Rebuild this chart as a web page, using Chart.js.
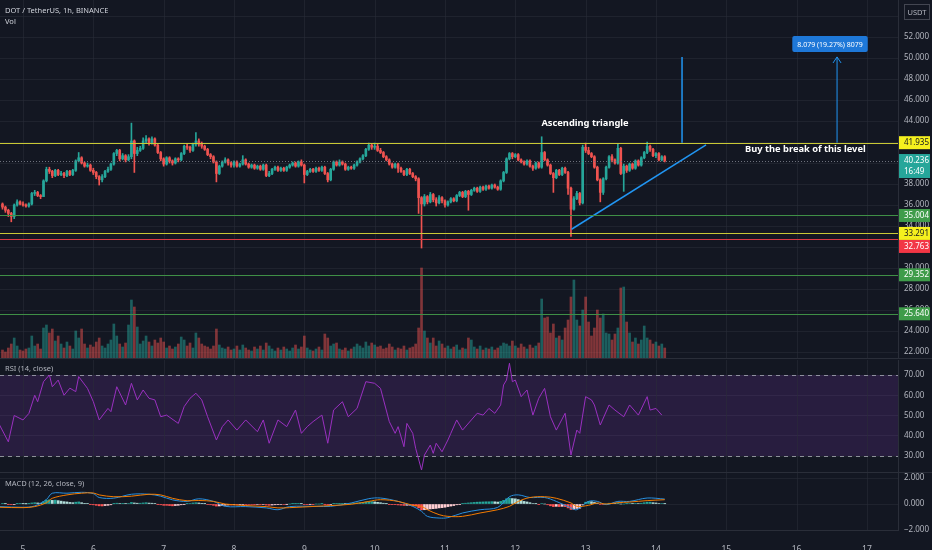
<!DOCTYPE html>
<html>
<head>
<meta charset="utf-8">
<title>DOT / TetherUS, 1h</title>
<script src="https://cdn.jsdelivr.net/npm/chart.js@4.4.0/dist/chart.umd.min.js"></script>
<style>
  html, body { margin: 0; padding: 0; background: #131722; }
  #wrap { position: relative; width: 932px; height: 550px; overflow: hidden; background: #131722; }
  #wrap canvas { position: absolute; left: 0; }
  .sep { position: absolute; left: 0; width: 932px; height: 1px; background: #2a2e39; }
</style>
</head>
<body>
<div id="wrap">
  <canvas id="priceChart" width="932" height="358" style="top:0"></canvas>
  <div class="sep" style="top:358px"></div>
  <canvas id="rsiChart" width="932" height="112" style="top:360px"></canvas>
  <div class="sep" style="top:472px"></div>
  <canvas id="macdChart" width="932" height="77" style="top:473px"></canvas>
</div>
<script>
// hourly candles, first one is the 4th at 17:00 (hours counted from the 5th 00:00)
const firstHour = -7;
const firstOpen = 36.1;

const closes = [
  35.8, 35.5, 35.2, 34.9, 36.0, 36.3, 36.1,
  36.0, 35.9, 36.1, 37.1, 37.2, 36.9, 36.8, 38.3, 39.4, 39.2, 38.8, 39.3, 38.9, 39.0, 38.8, 39.2, 38.9, 39.3, 40.2, 40.5, 40.0, 39.7, 39.8, 39.3,
  39.1, 38.7, 38.4, 38.7, 39.2, 39.4, 39.9, 40.9, 41.2, 40.4, 40.7, 40.3, 40.6, 42.1, 40.9, 41.2, 41.4, 42.1, 42.3, 41.9, 42.3, 41.7, 41.0, 40.4,
  39.9, 40.5, 40.2, 40.0, 40.4, 40.3, 40.9, 41.6, 41.5, 41.2, 41.8, 42.1, 41.8, 41.6, 41.3, 40.8, 40.6, 40.1, 39.0, 39.7, 40.1, 40.3, 40.0, 39.8,
  40.1, 39.7, 39.9, 40.3, 39.9, 39.6, 39.8, 39.5, 39.7, 39.4, 39.8, 38.8, 39.0, 39.4, 39.6, 39.3, 39.5, 39.3, 39.6, 39.8, 40.0, 39.7, 40.1, 39.8,
  38.9, 39.2, 39.4, 39.2, 39.5, 39.3, 39.6, 39.0, 38.4, 39.4, 40.1, 39.8, 40.1, 39.9, 39.4, 39.6, 39.5, 39.8, 40.1, 40.4, 40.7, 41.3, 41.7, 41.5,
  41.6, 41.2, 41.0, 40.6, 40.3, 39.9, 39.6, 39.9, 39.5, 39.2, 38.9, 39.4, 39.0, 38.7, 38.5, 36.7, 36.1, 36.8, 36.3, 37.0, 36.5, 36.2, 36.7, 36.4,
  36.0, 36.3, 36.6, 36.4, 36.9, 37.2, 36.8, 37.3, 37.0, 37.4, 37.6, 37.3, 37.7, 37.5, 37.8, 37.6, 37.9, 37.7, 37.5, 38.3, 39.1, 40.4, 40.9, 40.6,
  40.8, 40.3, 40.1, 39.9, 40.2, 39.7, 39.5, 40.0, 39.6, 41.0, 40.3, 39.8, 39.0, 38.6, 39.3, 38.9, 39.5, 39.1, 37.6, 35.6, 36.6, 37.1, 36.2, 41.5,
  41.2, 40.9, 40.6, 39.6, 38.4, 37.2, 38.5, 39.6, 40.6, 40.3, 40.0, 41.4, 39.0, 39.7, 39.3, 39.9, 39.5, 40.2, 39.8, 40.5, 41.0, 41.6, 41.3, 40.7,
  40.9, 40.3, 40.6, 40.236
];
const highs = [
  36.2, 35.9, 35.6, 35.3, 36.1, 36.5, 36.4,
  36.3, 36.1, 36.2, 37.2, 37.4, 37.3, 37.0, 38.4, 39.6, 39.6, 39.3, 39.4, 39.4, 39.2, 39.1, 39.3, 39.3, 39.4, 40.3, 41.0, 40.6, 40.1, 40.0, 39.9,
  39.5, 39.2, 38.8, 38.9, 39.3, 39.6, 40.0, 41.0, 41.3, 41.3, 40.9, 40.8, 40.8, 43.8, 42.2, 41.5, 41.6, 42.4, 42.6, 42.4, 42.5, 42.4, 41.8, 41.1,
  40.5, 40.6, 40.6, 40.3, 40.5, 40.5, 41.0, 41.7, 41.8, 41.6, 41.9, 42.9, 42.3, 42.0, 41.7, 41.4, 40.9, 40.7, 40.2, 39.8, 40.2, 40.5, 40.4, 40.1,
  40.2, 40.2, 40.0, 40.7, 40.4, 40.0, 39.9, 39.9, 39.8, 39.8, 39.9, 39.9, 39.2, 39.5, 39.7, 39.7, 39.6, 39.6, 39.7, 39.9, 40.1, 40.1, 40.2, 40.3,
  39.9, 39.3, 39.5, 39.5, 39.6, 39.6, 39.7, 39.7, 39.1, 39.5, 40.2, 40.2, 40.3, 40.2, 40.0, 39.7, 39.7, 39.9, 40.2, 40.5, 40.8, 41.4, 41.9, 41.8,
  41.9, 41.8, 41.4, 41.1, 40.7, 40.4, 40.0, 40.0, 40.0, 39.6, 39.3, 39.5, 39.5, 39.1, 38.8, 38.6, 36.8, 37.0, 36.9, 37.2, 37.1, 36.7, 36.9, 36.8,
  36.5, 36.4, 36.7, 36.7, 37.0, 37.3, 37.3, 37.4, 37.4, 37.5, 37.7, 37.7, 37.8, 37.8, 37.9, 37.9, 38.0, 38.0, 37.8, 38.4, 39.2, 40.5, 41.0, 41.0,
  40.9, 40.9, 40.4, 40.2, 40.3, 40.3, 39.8, 40.1, 40.1, 42.5, 41.1, 40.4, 39.9, 39.1, 39.4, 39.4, 39.6, 39.6, 39.2, 37.7, 36.8, 37.3, 37.2, 41.7,
  41.9, 41.5, 41.0, 40.7, 39.7, 38.5, 38.6, 39.7, 40.7, 40.8, 40.4, 41.8, 41.5, 39.9, 39.8, 40.0, 40.0, 40.3, 40.3, 40.6, 41.1, 42.0, 41.7, 41.4,
  41.0, 41.0, 40.7, 40.7
];
const lows = [
  35.6, 35.3, 34.9, 34.4, 34.7, 35.9, 36.0,
  35.9, 35.8, 35.8, 36.0, 36.9, 36.8, 36.6, 36.8, 38.2, 39.0, 38.6, 38.7, 38.8, 38.8, 38.6, 38.7, 38.8, 38.8, 39.2, 40.1, 39.9, 39.6, 39.6, 39.2,
  38.9, 38.5, 37.9, 38.2, 38.6, 39.1, 39.3, 39.8, 40.7, 40.2, 40.3, 40.1, 40.2, 40.4, 39.1, 40.7, 41.1, 41.3, 41.9, 41.7, 41.8, 41.6, 40.9, 40.2,
  39.7, 39.8, 40.0, 39.8, 39.9, 40.1, 40.2, 40.8, 41.3, 41.0, 41.1, 41.6, 41.6, 41.4, 41.2, 40.7, 40.4, 40.0, 38.2, 38.9, 39.6, 40.0, 39.8, 39.6,
  39.6, 39.6, 39.6, 39.8, 39.8, 39.5, 39.5, 39.4, 39.4, 39.3, 39.3, 38.7, 38.7, 38.9, 39.3, 39.2, 39.2, 39.2, 39.2, 39.5, 39.7, 39.6, 39.6, 39.7,
  38.1, 38.8, 39.1, 39.1, 39.1, 39.2, 39.2, 38.9, 38.2, 38.3, 39.3, 39.7, 39.7, 39.8, 39.3, 39.3, 39.4, 39.4, 39.7, 40.0, 40.3, 40.6, 41.2, 41.3,
  41.3, 41.1, 40.9, 40.5, 40.2, 39.8, 39.5, 39.5, 39.1, 39.1, 38.8, 38.8, 38.9, 38.6, 38.3, 35.2, 31.9, 35.9, 36.1, 36.2, 36.3, 35.9, 36.1, 36.2,
  35.8, 35.9, 36.2, 36.3, 36.3, 36.8, 36.7, 36.7, 35.5, 36.9, 37.3, 37.2, 37.2, 37.4, 37.4, 37.5, 37.5, 37.6, 37.4, 37.4, 38.2, 39.0, 40.3, 40.4,
  40.5, 40.2, 40.0, 39.8, 39.8, 39.6, 39.3, 39.4, 39.5, 39.5, 40.2, 39.7, 38.9, 37.2, 38.5, 38.8, 38.8, 39.0, 37.0, 33.0, 35.5, 36.5, 36.0, 36.1,
  41.0, 40.8, 40.5, 39.5, 38.3, 36.3, 37.0, 38.4, 39.5, 40.1, 39.9, 39.9, 38.9, 37.3, 39.1, 39.2, 39.4, 39.4, 39.7, 39.7, 40.4, 40.9, 41.1, 40.6,
  40.5, 40.2, 40.2, 40.1
];
const volumes = [
  8, 6, 10, 14, 20, 12, 8,
  7, 9, 10, 22, 12, 14, 9, 30, 33, 25, 29, 17, 22, 14, 10, 16, 12, 9, 27, 20, 29, 14, 10, 13,
  11, 16, 20, 12, 10, 14, 18, 34, 22, 14, 11, 15, 33, 58, 51, 31, 14, 17, 22, 16, 12, 18, 15, 20,
  16, 10, 12, 9, 11, 14, 21, 18, 12, 15, 10, 25, 20, 14, 12, 11, 9, 12, 29, 13, 10, 9, 11, 8,
  9, 12, 8, 13, 10, 8, 7, 11, 9, 12, 8, 15, 12, 9, 7, 10, 8, 11, 9, 7, 10, 13, 9, 11,
  22, 10, 8, 7, 9, 11, 8, 24, 20, 12, 14, 15, 9, 8, 10, 7, 9, 11, 14, 12, 10, 16, 12, 15,
  13, 11, 12, 9, 10, 14, 11, 8, 10, 9, 12, 8, 10, 11, 14, 30, 90, 27, 20, 15, 20, 12, 17, 14,
  10, 12, 9, 11, 13, 8, 10, 9, 20, 18, 11, 9, 12, 8, 10, 9, 11, 8, 10, 12, 15, 14, 12, 17,
  12, 10, 14, 11, 9, 13, 10, 12, 15, 59, 40, 41, 25, 34, 20, 22, 18, 30, 38, 61, 78, 38, 32, 48,
  61, 36, 22, 30, 48, 40, 44, 25, 24, 18, 24, 30, 70, 71, 36, 25, 16, 20, 14, 18, 32, 20, 18, 14,
  16, 12, 14, 10
];

const rsiHours = [
  -8, -5, -3, 0, 2, 4, 5, 7, 9, 10, 12, 14, 16, 18, 19, 22, 24, 26, 29, 30,
  32, 35, 37, 39, 41, 43, 45, 47, 49, 53, 55, 57, 59, 61, 63, 66, 68, 70, 73, 76,
  80, 82, 84, 87, 90, 93, 95, 97, 99, 102, 104, 106, 109, 111, 114, 117, 120, 122, 125, 127,
  128, 130, 131, 133, 134, 136, 137, 139, 140, 141, 143, 145, 146, 148, 150, 153, 155, 157, 159, 161,
  163, 164, 165, 166, 167, 168, 170, 172, 174, 176, 178, 180, 182, 185, 187, 189, 190, 192, 194, 195,
  197, 200, 202, 205, 207, 210, 213, 214, 216, 218
];
const rsiValues = [
  45.3, 37, 50, 47.8, 51, 60, 56.8, 66.7, 70, 64.2, 67.5, 60, 63.5, 61.8, 69.2, 63.4, 56.8, 47.8, 53.5, 51.9,
  64.2, 55.2, 65.9, 57.7, 62.6, 58.5, 57.7, 49.4, 50.2, 46.1, 54.4, 58.5, 61, 57.7, 49.4, 37.9, 44.5, 47.8, 42.8, 47.8,
  42, 47.8, 36.3, 47.8, 44.5, 52.7, 41.2, 44.5, 47, 50.2, 36.3, 52.7, 56.8, 49.4, 53.5, 66.7, 65.9, 63.4, 47, 41.2,
  44.5, 34.6, 46.1, 41.2, 33.8, 23.1, 30.5, 35.4, 31.3, 36.3, 32.1, 37.9, 41.2, 47.8, 42.8, 47.8, 51.1, 50.2, 53.5, 51.1,
  55.2, 65.1, 67.5, 75.8, 66.7, 67.5, 59.3, 62.6, 50.2, 58.5, 63.4, 49.4, 42.8, 51.1, 30.5, 42.8, 41.2, 59.3, 57.7, 55.2,
  45.3, 55.2, 52.7, 49.4, 55.2, 50.2, 59.3, 52.7, 53.5, 50.2
];

const macdHours = [
  -8, 0, 4, 8, 10, 15, 20, 24, 26, 31, 37, 43, 47, 51, 56, 60, 65, 69, 76, 83,
  87, 91, 100, 105, 112, 118, 122, 128, 133, 136, 138, 142, 145, 150, 156, 162, 166, 169, 173, 178,
  182, 187, 189, 193, 196, 199, 203, 207, 213, 219
];
const macdValues = [
  -0.2, -0.25, -0.15, 0.35, 0.83, 0.83, 0.9, 0.8, 0.5, 0.45, 0.75, 0.75, 0.6, 0.32, 0.2, 0.4, 0.2, -0.18, -0.2, -0.3,
  -0.44, -0.2, -0.18, -0.18, 0.08, 0.41, 0.46, 0.2, -0.18, -0.56, -0.95, -1.08, -1.05, -0.69, -0.44, -0.26, 0.56, 0.7, 0.5, 0.5,
  0.2, -0.3, -0.44, 0.2, 0.2, -0.05, 0.2, 0.2, 0.46, 0.38
];
const signalValues = [
  -0.25, -0.28, -0.2, 0.1, 0.44, 0.7, 0.83, 0.85, 0.7, 0.56, 0.6, 0.75, 0.7, 0.44, 0.25, 0.27, 0.2, 0.0, -0.12, -0.2,
  -0.3, -0.28, -0.18, -0.12, -0.02, 0.2, 0.33, 0.2, -0.1, -0.18, -0.44, -0.82, -0.95, -0.95, -0.69, -0.44, -0.18, 0.2, 0.5, 0.56,
  0.44, 0.08, -0.18, -0.1, 0.08, 0.0, 0.1, 0.15, 0.26, 0.33
];
// histogram, one per candle
const histValues = [
  0.03, 0.02, -0.02, -0.05, -0.03, 0.02, 0.03,
  0.02, 0.01, 0.02, 0.08, 0.1, 0.08, 0.06, 0.18, 0.3, 0.32, 0.28, 0.3, 0.26, 0.22, 0.18, 0.16, 0.12, 0.1, 0.14, 0.16, 0.1, 0.05, 0.03, -0.02,
  -0.06, -0.1, -0.14, -0.15, -0.12, -0.1, -0.06, 0.02, 0.06, 0.04, 0.05, 0.03, 0.04, 0.12, 0.08, 0.06, 0.06, 0.08, 0.1, 0.07, 0.06, 0.03, -0.02, -0.06,
  -0.1, -0.1, -0.12, -0.14, -0.12, -0.1, -0.06, -0.02, 0.02, 0.04, 0.08, 0.1, 0.08, 0.05, 0.02, -0.03, -0.06, -0.1, -0.16, -0.15, -0.12, -0.1, -0.08, -0.08,
  -0.06, -0.06, -0.05, -0.03, -0.03, -0.04, -0.04, -0.05, -0.04, -0.05, -0.04, -0.08, -0.1, -0.08, -0.06, -0.05, -0.04, -0.04, -0.02, 0.0, 0.02, 0.02, 0.03, 0.02,
  -0.03, -0.03, -0.02, -0.02, 0.0, 0.0, 0.01, -0.02, -0.06, -0.03, 0.02, 0.03, 0.05, 0.05, 0.03, 0.04, 0.04, 0.06, 0.08, 0.1, 0.12, 0.16, 0.18, 0.18,
  0.16, 0.13, 0.1, 0.06, 0.02, -0.02, -0.05, -0.05, -0.07, -0.09, -0.11, -0.1, -0.12, -0.14, -0.16, -0.3, -0.45, -0.44, -0.42, -0.38, -0.36, -0.34, -0.3, -0.28,
  -0.25, -0.2, -0.16, -0.12, -0.06, -0.02, 0.02, 0.06, 0.08, 0.1, 0.12, 0.14, 0.15, 0.16, 0.17, 0.17, 0.18, 0.17, 0.15, 0.2, 0.28, 0.4, 0.45, 0.42,
  0.4, 0.34, 0.28, 0.2, 0.16, 0.1, 0.04, 0.02, -0.02, 0.04, 0.0, -0.06, -0.14, -0.2, -0.18, -0.2, -0.18, -0.2, -0.3, -0.42, -0.4, -0.34, -0.32, -0.04,
  0.14, 0.2, 0.18, 0.12, 0.04, -0.04, -0.04, 0.0, 0.06, 0.06, 0.03, 0.08, 0.0, 0.0, 0.02, 0.04, 0.03, 0.05, 0.04, 0.06, 0.1, 0.14, 0.14, 0.1,
  0.08, 0.04, 0.04, 0.02
];

const dayHours = [0, 24, 48, 72, 96, 120, 144, 168, 192, 216, 240, 264, 288];
const dayLabels = ['5', '6', '7', '8', '9', '10', '11', '12', '13', '14', '15', '16', '17'];
const priceTicks = [22, 24, 26, 28, 30, 32, 34, 36, 38, 40, 42, 44, 46, 48, 50, 52, 54];
const rsiTicks = [30, 40, 50, 60, 70];
const macdTicks = [-2, 0, 2];

const levels = [41.935, 35.004, 33.291, 32.763, 29.352, 25.640];
const levelKinds = ['yellow', 'green', 'yellow', 'red', 'green', 'green'];
const lastPrice = 40.236;
const countdown = '16:49';

const trendHours = [187.2, 233.1];
const trendPrices = [33.69, 41.73];
const breakLevel = 41.935;
const targetPrice = 50.1;
const targetHour = 224.9;
const arrowHour = 277.8;
const moveLabel = '8.079 (19.27%) 8079';
const moveLabelHour = 275.4;
const moveLabelPrice = 51.33;

// visible window
const viewStart = -7.85;
const viewEnd = 298.6;

const bg = '#131722';
const gridColor = 'rgba(42,46,57,0.55)';
const borderColor = '#2a2e39';
const textColor = '#b2b5be';
const upColor = '#26a69a';
const downColor = '#ef5350';
const lineBlue = '#2196f3';
const kindLine = { yellow: '#c9c935', green: '#3f8f46', red: '#d83a44' };
const kindTag = { yellow: '#f5f01e', green: '#3f9c4a', red: '#f23645' };
const kindText = { yellow: '#131722', green: '#ffffff', red: '#ffffff' };
const axisFont = '8px "Noto Sans", sans-serif';
const paneFont = '7.5px "Noto Sans", sans-serif';

Chart.defaults.font.family = '"Noto Sans", "DejaVu Sans", sans-serif';
Chart.defaults.font.size = 8;
Chart.defaults.color = textColor;

const hours = closes.map((_, i) => firstHour + i);
const opens = closes.map((_, i) => (i === 0 ? firstOpen : closes[i - 1]));
const candleColors = closes.map((c, i) => (c >= opens[i] ? upColor : downColor));
const volColors = closes.map((c, i) => (c >= opens[i] ? 'rgba(38,166,154,0.5)' : 'rgba(239,83,80,0.5)'));

function xScale(withLabels) {
  return {
    type: 'linear',
    min: viewStart,
    max: viewEnd,
    offset: false,
    display: withLabels,
    grid: { display: false },
    border: { display: withLabels, color: borderColor },
    ticks: {
      color: textColor,
      font: { size: 8.5 },
      padding: 6,
      autoSkip: false,
      maxRotation: 0,
      callback: v => {
        const k = dayHours.indexOf(v);
        return k >= 0 ? dayLabels[k] : '';
      }
    },
    afterBuildTicks: s => { s.ticks = dayHours.map(v => ({ value: v })); },
    afterFit: s => { s.height = withLabels ? 20 : 0; s.paddingLeft = 0; s.paddingRight = 0; }
  };
}

function yScale(min, max, ticks, fmt) {
  return {
    position: 'right',
    min: min,
    max: max,
    grid: { color: gridColor, drawTicks: false },
    border: { color: borderColor },
    ticks: { color: textColor, padding: 6, font: { size: 8 }, callback: fmt },
    afterBuildTicks: s => { s.ticks = ticks.map(v => ({ value: v })); },
    afterFit: s => { s.width = 34; s.paddingTop = 0; s.paddingBottom = 0; }
  };
}

function dayGrid(chart) {
  const { ctx, chartArea: a, scales: { x } } = chart;
  ctx.save();
  ctx.strokeStyle = gridColor;
  ctx.lineWidth = 1;
  dayHours.forEach(h => {
    const px = Math.round(x.getPixelForValue(h)) + 0.5;
    if (px < a.left || px > a.right) return;
    ctx.beginPath();
    ctx.moveTo(px, a.top);
    ctx.lineTo(px, a.bottom);
    ctx.stroke();
  });
  ctx.restore();
}

function tag(ctx, left, top, h, fill, color, lines) {
  ctx.fillStyle = fill;
  ctx.fillRect(left, top, 932 - left - 2, h);
  ctx.fillStyle = color;
  ctx.font = axisFont;
  ctx.textAlign = 'left';
  ctx.textBaseline = 'middle';
  lines.forEach((t, k) => ctx.fillText(t, left + 5, top + 6.5 + k * 11));
}

const priceOverlay = {
  id: 'priceOverlay',
  beforeDatasetsDraw(chart) { dayGrid(chart); },
  afterDatasetsDraw(chart) {
    const { ctx, chartArea: a, scales: { x, y } } = chart;
    ctx.save();
    // horizontal levels
    levels.forEach((p, i) => {
      const py = Math.round(y.getPixelForValue(p)) + 0.5;
      ctx.strokeStyle = kindLine[levelKinds[i]];
      ctx.lineWidth = 1;
      ctx.beginPath();
      ctx.moveTo(a.left, py);
      ctx.lineTo(a.right, py);
      ctx.stroke();
    });
    // last price line
    const lp = Math.round(y.getPixelForValue(lastPrice)) + 0.5;
    ctx.strokeStyle = 'rgba(120,123,134,0.9)';
    ctx.setLineDash([1, 2]);
    ctx.beginPath();
    ctx.moveTo(a.left, lp);
    ctx.lineTo(a.right, lp);
    ctx.stroke();
    ctx.setLineDash([]);
    // arrow head
    const ax = x.getPixelForValue(arrowHour);
    const ay = y.getPixelForValue(targetPrice);
    ctx.strokeStyle = lineBlue;
    ctx.lineWidth = 1;
    ctx.beginPath();
    ctx.moveTo(ax - 4, ay + 6);
    ctx.lineTo(ax, ay);
    ctx.lineTo(ax + 4, ay + 6);
    ctx.stroke();
    // measured move label
    const mx = x.getPixelForValue(moveLabelHour);
    const my = y.getPixelForValue(moveLabelPrice);
    ctx.font = '7px "Noto Sans", sans-serif';
    const mw = ctx.measureText(moveLabel).width + 10;
    ctx.fillStyle = '#1e78d8';
    ctx.beginPath();
    ctx.roundRect(mx - mw / 2, my - 8, mw, 16, 2);
    ctx.fill();
    ctx.fillStyle = '#ffffff';
    ctx.textAlign = 'center';
    ctx.textBaseline = 'middle';
    ctx.fillText(moveLabel, mx, my + 0.5);
    // notes
    ctx.font = 'bold 9.3px "Noto Sans", sans-serif';
    ctx.fillStyle = '#ffffff';
    ctx.textAlign = 'center';
    ctx.fillText('Ascending triangle', x.getPixelForValue(191.8), y.getPixelForValue(43.8));
    ctx.textAlign = 'left';
    ctx.fillText('Buy the break of this level', x.getPixelForValue(246.4), y.getPixelForValue(41.33));
    ctx.restore();
  },
  afterDraw(chart) {
    const { ctx, chartArea: a, scales: { y } } = chart;
    ctx.save();
    const left = a.right + 1;
    let prevBottom = -Infinity;
    const tags = levels.map((p, i) => ({ p: p, kind: levelKinds[i] }));
    tags.push({ p: lastPrice, kind: 'last' });
    tags.sort((m, n) => n.p - m.p);
    tags.forEach(t => {
      const h = t.kind === 'last' ? 24 : 13;
      let top = y.getPixelForValue(t.p) - 6.5;
      if (top < prevBottom) top = prevBottom;
      if (t.kind === 'last') {
        tag(ctx, left, top, h, upColor, '#ffffff', [lastPrice.toFixed(3), countdown]);
      } else {
        tag(ctx, left, top, h, kindTag[t.kind], kindText[t.kind], [t.p.toFixed(3)]);
      }
      prevBottom = top + h;
    });
    // currency box
    ctx.fillStyle = bg;
    ctx.fillRect(left + 5, 4, 26, 16);
    ctx.strokeStyle = '#434651';
    ctx.strokeRect(left + 5.5, 4.5, 25, 15);
    ctx.fillStyle = textColor;
    ctx.font = '7.5px "Noto Sans", sans-serif';
    ctx.textAlign = 'center';
    ctx.textBaseline = 'middle';
    ctx.fillText('USDT', left + 18, 12.5);
    // legend
    ctx.textAlign = 'left';
    ctx.fillStyle = '#d1d4dc';
    ctx.font = paneFont;
    ctx.fillText('DOT / TetherUS, 1h, BINANCE', 5, 11);
    ctx.fillText('Vol', 5, 22);
    ctx.restore();
  }
};

new Chart(document.getElementById('priceChart'), {
  type: 'bar',
  data: {
    datasets: [
      {
        label: 'Volume', yAxisID: 'yVol', order: 10, grouped: false,
        data: hours.map((h, i) => ({ x: h, y: volumes[i] })),
        backgroundColor: volColors, barThickness: 2
      },
      {
        label: 'Wicks', yAxisID: 'y', order: 5, grouped: false,
        data: hours.map((h, i) => ({ x: h, y: [lows[i], highs[i]] })),
        backgroundColor: candleColors, barThickness: 1
      },
      {
        label: 'Bodies', yAxisID: 'y', order: 4, grouped: false,
        data: hours.map((h, i) => ({ x: h, y: [opens[i], closes[i]] })),
        backgroundColor: candleColors, barThickness: 2, minBarLength: 1
      },
      {
        type: 'line', label: 'Trend', yAxisID: 'y', order: 1,
        data: trendHours.map((h, i) => ({ x: h, y: trendPrices[i] })),
        borderColor: lineBlue, borderWidth: 1.5, pointRadius: 0
      },
      {
        type: 'line', label: 'Target', yAxisID: 'y', order: 1,
        data: [{ x: targetHour, y: breakLevel }, { x: targetHour, y: targetPrice }],
        borderColor: lineBlue, borderWidth: 1.5, pointRadius: 0
      },
      {
        type: 'line', label: 'Arrow', yAxisID: 'y', order: 1,
        data: [{ x: arrowHour, y: breakLevel }, { x: arrowHour, y: targetPrice }],
        borderColor: lineBlue, borderWidth: 1, pointRadius: 0
      }
    ]
  },
  options: {
    responsive: false,
    animation: false,
    events: [],
    layout: { padding: 0 },
    plugins: { legend: { display: false }, tooltip: { enabled: false } },
    scales: {
      x: xScale(false),
      y: yScale(21.429, 55.524, priceTicks, v => v.toFixed(3)),
      yVol: { display: false, min: 0, max: 358 }
    }
  },
  plugins: [priceOverlay]
});

const rsiOverlay = {
  id: 'rsiOverlay',
  beforeDatasetsDraw(chart) {
    const { ctx, chartArea: a, scales: { y } } = chart;
    const top = y.getPixelForValue(70);
    const bottom = y.getPixelForValue(30);
    ctx.save();
    ctx.fillStyle = 'rgba(140,60,200,0.18)';
    ctx.fillRect(a.left, top, a.right - a.left, bottom - top);
    ctx.restore();
    dayGrid(chart);
    ctx.save();
    ctx.strokeStyle = 'rgba(178,181,190,0.75)';
    ctx.setLineDash([4, 4]);
    ctx.lineWidth = 1;
    [top, bottom].forEach(py => {
      const yy = Math.round(py) + 0.5;
      ctx.beginPath();
      ctx.moveTo(a.left, yy);
      ctx.lineTo(a.right, yy);
      ctx.stroke();
    });
    ctx.restore();
  },
  afterDraw(chart) {
    const { ctx } = chart;
    ctx.save();
    ctx.fillStyle = textColor;
    ctx.font = paneFont;
    ctx.textBaseline = 'middle';
    ctx.fillText('RSI (14, close)', 5, 9);
    ctx.restore();
  }
};

new Chart(document.getElementById('rsiChart'), {
  type: 'line',
  data: {
    datasets: [{
      label: 'RSI',
      data: rsiHours.map((h, i) => ({ x: h, y: rsiValues[i] })),
      borderColor: '#9a30c0', borderWidth: 1, pointRadius: 0, tension: 0
    }]
  },
  options: {
    responsive: false,
    animation: false,
    events: [],
    layout: { padding: 0 },
    plugins: { legend: { display: false }, tooltip: { enabled: false } },
    scales: {
      x: xScale(false),
      y: yScale(22.1, 77.41, rsiTicks, v => v.toFixed(2))
    }
  },
  plugins: [rsiOverlay]
});

const histColors = histValues.map((v, i) => {
  const prev = i ? histValues[i - 1] : 0;
  if (v >= 0) return v >= prev ? '#26a69a' : '#b2dfdb';
  return v <= prev ? '#ff5252' : '#ffcdd2';
});

const macdOverlay = {
  id: 'macdOverlay',
  beforeDatasetsDraw(chart) { dayGrid(chart); },
  afterDraw(chart) {
    const { ctx } = chart;
    ctx.save();
    ctx.fillStyle = textColor;
    ctx.font = paneFont;
    ctx.textBaseline = 'middle';
    ctx.fillText('MACD (12, 26, close, 9)', 5, 11);
    ctx.restore();
  }
};

new Chart(document.getElementById('macdChart'), {
  type: 'bar',
  data: {
    datasets: [
      {
        label: 'Histogram', order: 5, grouped: false,
        data: hours.map((h, i) => ({ x: h, y: histValues[i] })),
        backgroundColor: histColors, barThickness: 2
      },
      {
        type: 'line', label: 'MACD', order: 2,
        data: macdHours.map((h, i) => ({ x: h, y: macdValues[i] })),
        borderColor: '#2890e0', borderWidth: 1, pointRadius: 0, tension: 0.35
      },
      {
        type: 'line', label: 'Signal', order: 1,
        data: macdHours.map((h, i) => ({ x: h, y: signalValues[i] })),
        borderColor: '#f57c00', borderWidth: 1, pointRadius: 0, tension: 0.35
      }
    ]
  },
  options: {
    responsive: false,
    animation: false,
    events: [],
    layout: { padding: 0 },
    plugins: { legend: { display: false }, tooltip: { enabled: false } },
    scales: {
      x: xScale(true),
      y: yScale(-2.0, 2.385, macdTicks, v => (v < 0 ? '\u2212' : '') + Math.abs(v).toFixed(3))
    }
  },
  plugins: [macdOverlay]
});
</script>
</body>
</html>
